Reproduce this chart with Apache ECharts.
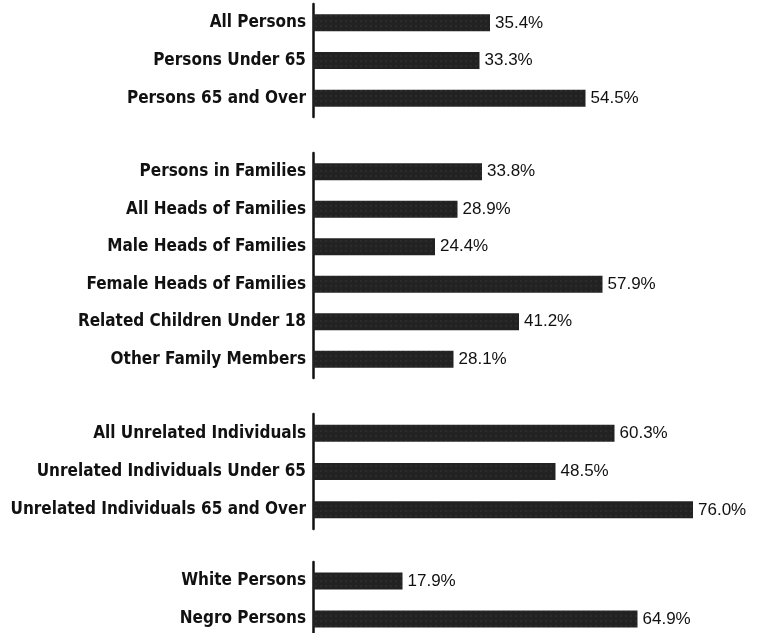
<!DOCTYPE html>
<html>
<head>
<meta charset="utf-8">
<script src="https://cdn.jsdelivr.net/npm/echarts@6/dist/echarts.min.js"></script>
<style>
  html, body { margin: 0; padding: 0; background: #fff; }
  #chart { width: 770px; height: 633px; }
</style>
</head>
<body>
<div id="chart"></div>
<script>
// groups of rows, top to bottom
const personsLabels = ["All Persons", "Persons Under 65", "Persons 65 and Over"];
const personsValues = [35.4, 33.3, 54.5];

const familyLabels = [
  "Persons in Families",
  "All Heads of Families",
  "Male Heads of Families",
  "Female Heads of Families",
  "Related Children Under 18",
  "Other Family Members",
];
const familyValues = [33.8, 28.9, 24.4, 57.9, 41.2, 28.1];

const unrelatedLabels = [
  "All Unrelated Individuals",
  "Unrelated Individuals Under 65",
  "Unrelated Individuals 65 and Over",
];
const unrelatedValues = [60.3, 48.5, 76.0];

const raceLabels = ["White Persons", "Negro Persons"];
const raceValues = [17.9, 64.9];

const groups = [
  { labels: personsLabels, values: personsValues, top: 4, height: 113 },
  { labels: familyLabels, values: familyValues, top: 153, height: 225 },
  { labels: unrelatedLabels, values: unrelatedValues, top: 414, height: 115 },
  { labels: raceLabels, values: raceValues, top: 562, height: 76 },
];

const chart = echarts.init(document.getElementById("chart"), null, { renderer: "canvas" });

const labelFont = '"Liberation Sans Narrow", "DejaVu Sans Condensed", sans-serif';

const option = {
  backgroundColor: "#fff",
  animation: false,
  grid: groups.map((g) => ({
    left: 313,
    width: 450,
    top: g.top,
    height: g.height,
    outerBoundsMode: "none",
  })),
  xAxis: groups.map((g, i) => ({
    type: "value",
    gridIndex: i,
    min: 0,
    max: 90,
    show: false,
  })),
  yAxis: groups.map((g, i) => ({
    type: "category",
    gridIndex: i,
    inverse: true,
    data: g.labels,
    axisLine: { show: true, lineStyle: { color: "#111", width: 2.5 } },
    axisTick: { show: false },
    splitLine: { show: false },
    axisLabel: {
      margin: 7,
      color: "#111",
      fontFamily: labelFont,
      fontWeight: "bold",
      fontSize: 17,
    },
  })),
  series: groups.map((g, i) => ({
    type: "bar",
    xAxisIndex: i,
    yAxisIndex: i,
    data: g.values,
    barWidth: 17,
    itemStyle: {
      color: "#222",
      decal: {
        symbol: "rect",
        symbolSize: 0.5,
        color: "rgba(255,255,255,0.2)",
        dashArrayX: [2, 3],
        dashArrayY: [2, 3],
        rotation: 0,
      },
    },
    label: {
      show: true,
      position: "right",
      distance: 5,
      color: "#111",
      fontFamily: '"Liberation Sans", Arial, sans-serif',
      fontSize: 17,
      formatter: (p) => p.value.toFixed(1) + "%",
    },
  })),
};

chart.setOption(option);
</script>
</body>
</html>
